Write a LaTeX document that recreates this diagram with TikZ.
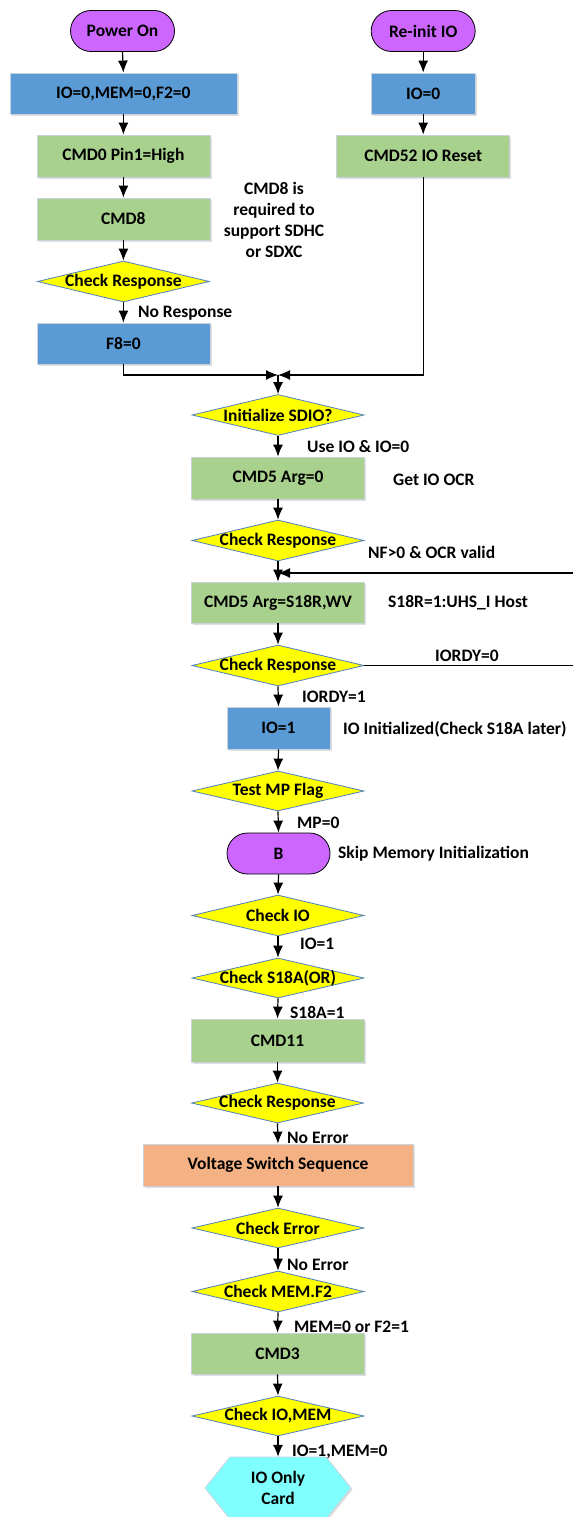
\documentclass[tikz,border=0pt]{standalone}
\usepackage{fontspec}
\setmainfont{Carlito}
\usetikzlibrary{shapes.geometric,arrows.meta,shadows}
\definecolor{termfill}{HTML}{CC66FF}
\definecolor{bluefill}{HTML}{5B9BD5}
\definecolor{greenfill}{HTML}{A9D18E}
\definecolor{orangefill}{HTML}{F4B183}
\definecolor{yellowfill}{HTML}{FFFF00}
\definecolor{cyanfill}{HTML}{80FFFF}
\definecolor{boxline}{HTML}{C9D3DE}
\definecolor{decline}{HTML}{4F81BD}
\begin{document}
\begin{tikzpicture}[x=1pt,y=-1pt,
  font=\bfseries\fontsize{17.5}{21}\selectfont,
  boxshadow/.style={general shadow={fill=black,opacity=0.13,shadow xshift=1.6pt,shadow yshift=-1.6pt}},
  procbox/.style={rectangle,draw=boxline,line width=0.8pt,minimum width=173pt,minimum height=42pt,inner sep=0pt,boxshadow},
  bluebox/.style={procbox,fill=bluefill},
  greenbox/.style={procbox,fill=greenfill},
  orangebox/.style={procbox,fill=orangefill},
  termbox/.style={rectangle,rounded corners=20.5pt,draw=black,line width=0.8pt,fill=termfill,minimum width=104pt,minimum height=41pt,inner sep=0pt},
  decbox/.style={diamond,draw=decline,line width=0.8pt,fill=yellowfill,minimum width=172pt,minimum height=41pt,inner sep=0pt},
  hexsty/.style={fill=cyanfill,draw=boxline,line width=0.8pt,boxshadow},
  lbl/.style={inner sep=0pt,anchor=west},
  arr/.style={line width=1.2pt,-{Latex[length=12pt,width=10pt]}},
  ln/.style={line width=1.2pt}
]
\useasboundingbox (0,0) rectangle (573,1517);

% ---- left column
\node[termbox] (pwr) at (122.5,31) {Power On};
\node[bluebox,minimum width=227pt,minimum height=41pt] (init1) at (123.4,93.5) {IO=0,MEM=0,F2=0};
\node[greenbox] (cmd0) at (123.4,156) {CMD0 Pin1=High};
\node[greenbox] (cmd8) at (123.4,219) {CMD8};
\node[decbox,label=center:{Check Response}] (chk1) at (123.4,281.5) {};
\node[bluebox,minimum height=41pt] (f8) at (123.4,343.5) {F8=0};

% ---- right column
\node[termbox] (reinit) at (423.2,31) {Re-init IO};
\node[bluebox,minimum width=104pt,minimum height=41pt] (io0) at (423.2,93.5) {IO=0};
\node[greenbox] (cmd52) at (423.2,156) {CMD52 IO Reset};

% note
\node[align=center,inner sep=0pt] (note) at (274,219.5) {CMD8 is\\required to\\support SDHC\\or SDXC};

% ---- center column
\coordinate (mj) at (278,375);
\node[decbox,label=center:{Initialize SDIO?}] (isdio) at (278,415) {};
\node[greenbox] (cmd5a) at (278,478) {CMD5 Arg=0};
\node[decbox,label=center:{Check Response}] (chk2) at (278,540.5) {};
\node[greenbox,minimum height=41pt] (cmd5b) at (278,602.5) {CMD5 Arg=S18R,WV};
\node[decbox,label=center:{Check Response}] (chk3) at (278,665.5) {};
\node[bluebox,minimum width=103pt] (io1) at (278.5,728) {IO=1};
\node[decbox,minimum height=40pt,label=center:{Test MP Flag}] (mp) at (278,791) {};
\node[termbox,minimum width=103pt] (bterm) at (278.5,853.5) {B};
\node[decbox,label=center:{Check IO}] (chkio) at (278,915.5) {};
\node[decbox,minimum height=40pt,label=center:{Check S18A(OR)}] (s18a) at (278,978) {};
\node[greenbox,minimum height=43pt] (cmd11) at (277.5,1040.5) {CMD11};
\node[decbox,minimum height=40pt,label=center:{Check Response}] (chk4) at (277.5,1103) {};
\node[orangebox,minimum width=270pt] (vss) at (278,1165) {Voltage Switch Sequence};
\node[decbox,minimum height=40pt,label=center:{Check Error}] (chkerr) at (278,1228) {};
\node[decbox,label=center:{Check MEM.F2}] (chkmem) at (278,1291.5) {};
\node[greenbox,minimum height=41pt] (cmd3) at (277.5,1353.5) {CMD3};
\node[decbox,minimum height=40pt,label=center:{Check IO,MEM}] (chkiomem) at (278,1416) {};
\coordinate (hexc) at (278,1488);
\filldraw[hexsty] (hexc) ++(-73,0) -- ++(25,-31) -- ++(96,0) -- ++(25,31) -- ++(-25,31) -- ++(-96,0) -- cycle;
\node[align=center,inner sep=0pt,minimum width=146pt,minimum height=62pt] (ioonly) at (hexc) {IO Only\\Card};

% loop coordinates
\coordinate (r2) at (573,573);
\coordinate (j2) at (278,573);
\coordinate (r3) at (573,665.5);

% ---- connectors
\draw[arr] (pwr.south) -- (init1.north);
\draw[arr] (init1.south) -- (cmd0.north);
\draw[arr] (cmd0.south) -- (cmd8.north);
\draw[arr] (cmd8.south) -- (chk1.north);
\draw[arr] (chk1.south) -- (f8.north);
\draw[arr] (reinit.south) -- (io0.north);
\draw[arr] (io0.south) -- (cmd52.north);
\draw[arr] (f8.south) |- (mj);
\draw[arr] (cmd52.south) |- (mj);
\draw[arr] (mj) -- (isdio.north);
\draw[arr] (isdio.south) -- (cmd5a.north);
\draw[arr] (cmd5a.south) -- (chk2.north);
\draw[arr] (chk2.south) -- (cmd5b.north);
\draw[arr] (r2) -- (j2);
\draw[arr] (cmd5b.south) -- (chk3.north);
\draw[ln] (chk3.east) -- (r3);
\draw[arr] (chk3.south) -- (io1.north);
\draw[arr] (io1.south) -- (mp.north);
\draw[arr] (mp.south) -- (bterm.north);
\draw[arr] (bterm.south) -- (chkio.north);
\draw[arr] (chkio.south) -- (s18a.north);
\draw[arr] (s18a.south) -- (cmd11.north);
\draw[arr] (cmd11.south) -- (chk4.north);
\draw[arr] (chk4.south) -- (vss.north);
\draw[arr] (vss.south) -- (chkerr.north);
\draw[arr] (chkerr.south) -- (chkmem.north);
\draw[arr] (chkmem.south) -- (cmd3.north);
\draw[arr] (cmd3.south) -- (chkiomem.north);
\draw[arr] (chkiomem.south) -- (ioonly.north);

% ---- labels
\node[lbl] (l1) at (137.8,313) {No Response};
\node[lbl] (l2) at (307,447) {Use IO \& IO=0};
\node[lbl] (l3) at (393,480) {Get IO OCR};
\node[lbl] (l4) at (368,552) {NF>0 \& OCR valid};
\node[lbl] (l5) at (388,603) {S18R=1:UHS\_I Host};
\node[inner sep=0pt] (l6) at (467,656) {IORDY=0};
\node[lbl] (l7) at (302,697) {IORDY=1};
\node[lbl] (l8) at (343,729) {IO Initialized(Check S18A later)};
\node[lbl] (l9) at (297,823) {MP=0};
\node[lbl] (l10) at (338,854) {Skip Memory Initialization};
\node[lbl] (l11) at (300,944) {IO=1};
\node[lbl] (l12) at (290,1013) {S18A=1};
\node[lbl] (l13) at (287,1138) {No Error};
\node[lbl] (l14) at (287,1265) {No Error};
\node[lbl] (l15) at (294,1327) {MEM=0 or F2=1};
\node[lbl] (l16) at (292,1452) {IO=1,MEM=0};
\end{tikzpicture}
\end{document}
